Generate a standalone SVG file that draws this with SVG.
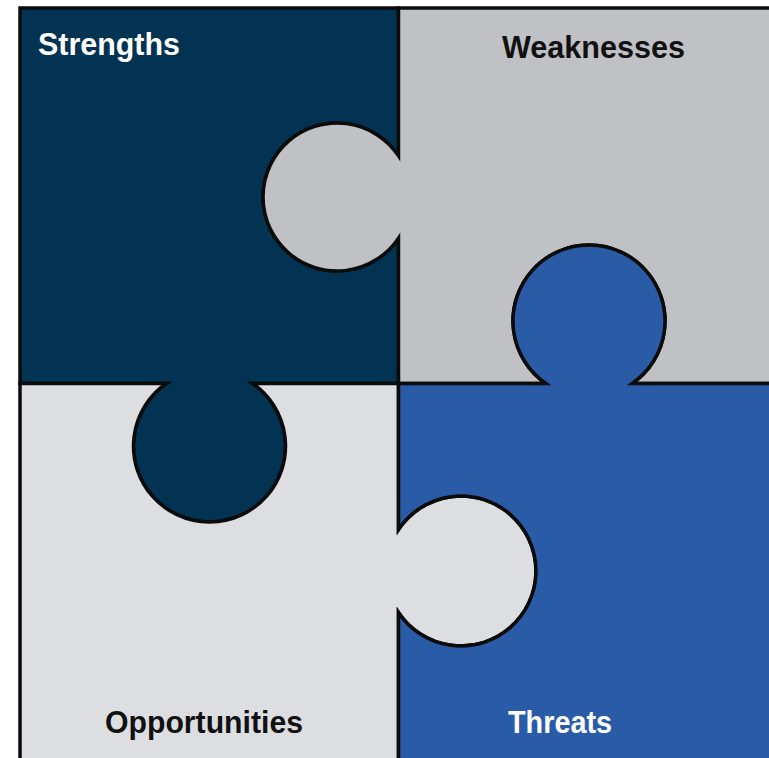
<svg xmlns="http://www.w3.org/2000/svg" width="769" height="758" viewBox="0 0 769 758">
  <style>
    .piece { stroke: #0b0b0b; stroke-width: 3.5; stroke-linejoin: miter; }
    .label { font-family: "Liberation Sans", Arial, sans-serif; font-weight: bold; font-size: 31px; }
    .light-text { fill: #ffffff; }
    .dark-text { fill: #111111; }
  </style>
  <rect x="0" y="0" width="769" height="758" fill="#ffffff"/>
  <g id="strengths">
    <path class="piece" fill="#033352" d="M20,8 H398.5 V155.8 A74,74 0 1 0 398.5,238.2 V383.5 H252.7 A76,76 0 1 1 166.3,383.5 H20 Z"/>
    <text class="label light-text" x="38" y="55" textLength="142" lengthAdjust="spacingAndGlyphs">Strengths</text>
  </g>
  <g id="weaknesses">
    <path class="piece" fill="#bfc1c4" d="M398.5,8 H790 V383.5 H632.2 A76,76 0 1 0 545.8,383.5 H398.5 V238.2 A74,74 0 1 1 398.5,155.8 Z"/>
    <text class="label dark-text" x="502" y="58" textLength="183" lengthAdjust="spacingAndGlyphs">Weaknesses</text>
  </g>
  <g id="opportunities">
    <path class="piece" fill="#dcdee1" d="M20,383.5 H166.3 A76,76 0 1 0 252.7,383.5 H398.5 V529.5 A75,75 0 1 1 398.5,612.5 V780 H20 Z"/>
    <text class="label dark-text" x="105" y="733" textLength="198" lengthAdjust="spacingAndGlyphs">Opportunities</text>
  </g>
  <g id="threats">
    <path class="piece" fill="#2a5ba7" d="M398.5,383.5 H545.8 A76,76 0 1 1 632.2,383.5 H790 V780 H398.5 V612.5 A75,75 0 1 0 398.5,529.5 Z"/>
    <text class="label light-text" x="508" y="733" textLength="104" lengthAdjust="spacingAndGlyphs">Threats</text>
  </g>
  <g id="connectors"/>
</svg>
